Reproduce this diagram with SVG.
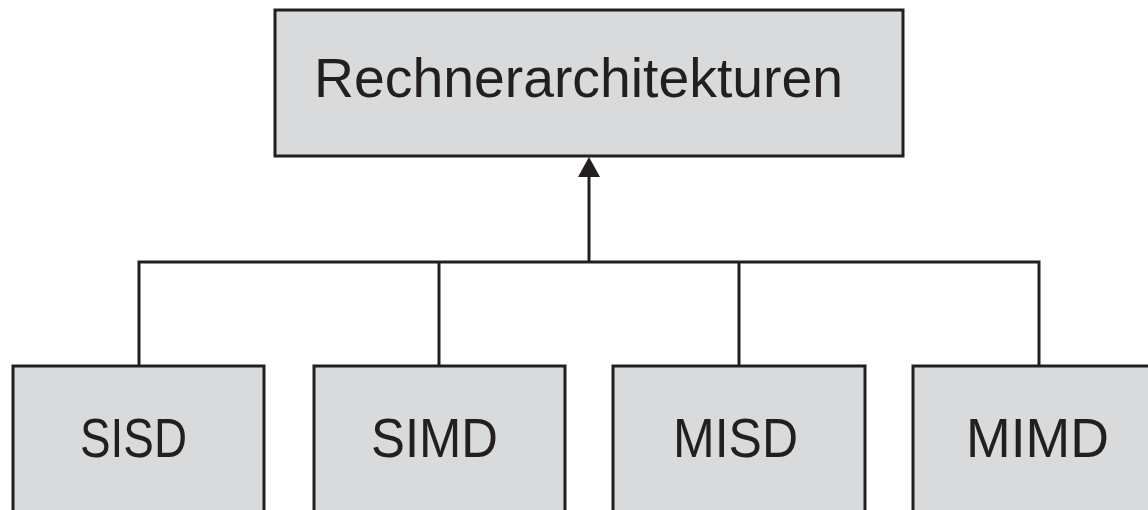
<svg xmlns="http://www.w3.org/2000/svg" width="1148" height="510" viewBox="0 0 1148 510">
  <style>
    .box { fill: #d9dadc; stroke: #231f20; stroke-width: 3; }
    .label { font-family: "Liberation Sans", Arial, sans-serif; font-size: 56px; fill: #231f20; }
    .wire { fill: none; stroke: #231f20; stroke-width: 3; }
  </style>
  <defs>
    <marker id="arrowhead" viewBox="0 0 22 20" refX="11" refY="0" markerWidth="22" markerHeight="20" markerUnits="userSpaceOnUse" orient="auto-start-reverse">
      <polygon points="0,0 22,0 11,20" fill="#231f20"/>
    </marker>
  </defs>

  <!-- connectors: tree from the four classes up to the root -->
  <g id="connectors">
    <path class="wire" d="M139,366 V262 H1039 V366"/>
    <path class="wire" d="M439,262 V366"/>
    <path class="wire" d="M739,262 V366"/>
    <line class="wire" x1="589" y1="262" x2="589" y2="176"/>
    <polygon points="589,157 578,177 600,177" fill="#231f20"/>
  </g>

  <g id="node-root">
    <rect class="box" x="275" y="10" width="628" height="146"/>
    <text class="label" x="314" y="97" textLength="529" lengthAdjust="spacingAndGlyphs">Rechnerarchitekturen</text>
  </g>

  <g id="node-sisd">
    <rect class="box" x="13" y="366" width="251" height="170"/>
    <text class="label" x="80" y="457" textLength="107" lengthAdjust="spacingAndGlyphs">SISD</text>
  </g>

  <g id="node-simd">
    <rect class="box" x="314" y="366" width="251" height="170"/>
    <text class="label" x="371" y="457" textLength="127" lengthAdjust="spacingAndGlyphs">SIMD</text>
  </g>

  <g id="node-misd">
    <rect class="box" x="613" y="366" width="252" height="170"/>
    <text class="label" x="673" y="457" textLength="125" lengthAdjust="spacingAndGlyphs">MISD</text>
  </g>

  <g id="node-mimd">
    <rect class="box" x="913" y="366" width="260" height="170"/>
    <text class="label" x="966" y="457" textLength="143" lengthAdjust="spacingAndGlyphs">MIMD</text>
  </g>
</svg>
